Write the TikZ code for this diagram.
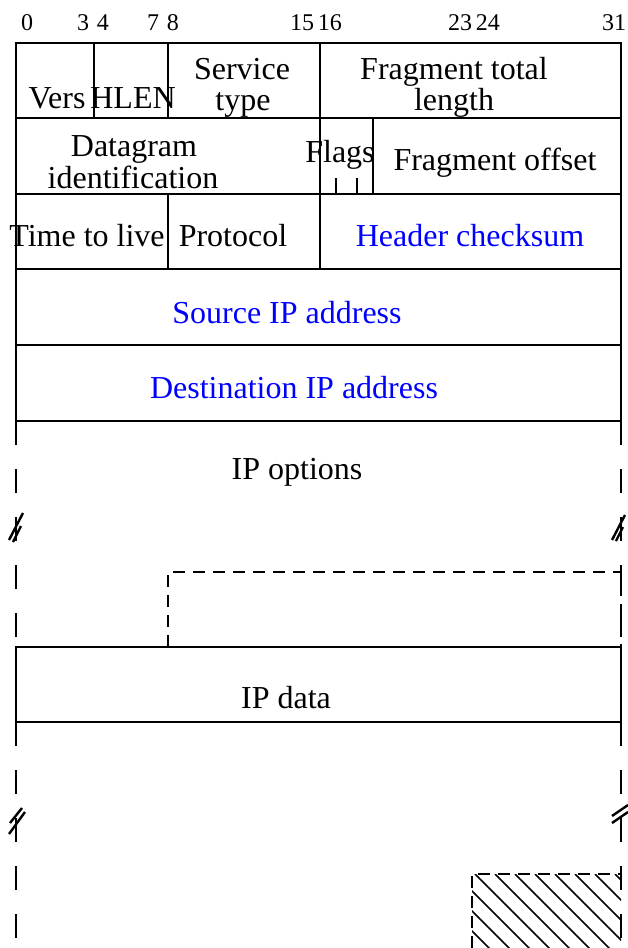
\documentclass[tikz,border=0pt]{standalone}
\usepackage{fontspec}
\setmainfont{Liberation Serif}
\begin{document}
\begin{tikzpicture}[x=1pt,y=-1pt,line width=2.1pt,
  txt/.style={font=\fontsize{32}{32}\selectfont,inner sep=0pt,anchor=base},
  bluetxt/.style={txt,text=blue},
  bitnum/.style={font=\fontsize{24}{24}\selectfont,inner sep=0pt,anchor=base},
  longside/.style={dash pattern=on 24pt off 24pt},
  shortdash/.style={dash pattern=on 12pt off 8pt},
  brk/.style={line width=2.4pt},
  hatch/.style={line width=1.6pt}]
\useasboundingbox (0,0) rectangle (628,948);

% bit numbers
\node[bitnum] (b0) at (27,30) {0};
\node[bitnum] (b34) at (93,30) {3\,\,4};
\node[bitnum] (b78) at (163,30) {7\,\,8};
\node[bitnum] (b1516) at (316,30) {15\,16};
\node[bitnum] (b2324) at (474,30) {23\,24};
\node[bitnum] (b31) at (614,30) {31};

% header frame
\draw (16,43) rectangle (621,421);
\foreach \y in {118,194,269,345} \draw (16,\y) -- (621,\y);
\draw (94,43) -- (94,118);
\draw (168,43) -- (168,118);
\draw (320,43) -- (320,118);
\draw (320,118) -- (320,194);
\draw (373,118) -- (373,194);
\draw (336,178) -- (336,194);
\draw (357,178) -- (357,194);
\draw (168,194) -- (168,269);
\draw (320,194) -- (320,269);

% row 1
\node[txt] (vers) at (57,108) {Vers};
\node[txt] (hlen) at (133,108) {HLEN};
\node[txt] (serv1) at (242,79) {Service};
\node[txt] (serv2) at (243,110) {type};
\node[txt] (ftl1) at (454,79) {Fragment total};
\node[txt] (ftl2) at (454,110) {length};
% row 2
\node[txt] (dg1) at (134,156) {Datagram};
\node[txt] (dg2) at (133,188) {identification};
\node[txt] (flags) at (340,162) {Flags};
\node[txt] (foff) at (495,170) {Fragment offset};
% row 3
\node[txt] (ttl) at (87,246) {Time to live};
\node[txt] (proto) at (233,246) {Protocol};
\node[bluetxt] (hcs) at (470,246) {Header checksum};
% rows 4,5
\node[bluetxt] (src) at (287,323) {Source IP address};
\node[bluetxt] (dst) at (294,398) {Destination IP address};
% options
\node[txt] (opt) at (297,479) {IP options};

% long dashed sides (options)
\draw[longside] (16,421) -- (16,647);
\draw[longside] (621,421) -- (621,647);
% dashed padding box
\draw[shortdash] (168,647) -- (168,572) -- (621,572) -- (621,647);

% IP data box
\draw (16,647) rectangle (621,722);
\node[txt] (data) at (286,708) {IP data};

% long dashed sides (data)
\draw[longside] (16,722) -- (16,948);
\draw[longside] (621,722) -- (621,948);

% break marks (upper)
\draw[brk] (9,540) -- (23,513);
\draw[brk] (13,542) -- (21,526);
\draw[brk] (612,540) -- (625,515);
\draw[brk] (616,541) -- (623,527);
% break marks (lower)
\draw[brk] (9,834) -- (25,812);
\draw[brk] (10,823) -- (22,808);
\draw[brk] (612,823) -- (628,812);
\draw[brk] (612,816) -- (628,805);

% hatched area
\begin{scope}
\clip (472,874) rectangle (621,948);
\foreach \k in {-4,...,7} \draw[hatch] (475+20*\k,874) -- ++(80,80);
\end{scope}
\draw[shortdash] (472,948) -- (472,874) -- (621,874);
\end{tikzpicture}
\end{document}
